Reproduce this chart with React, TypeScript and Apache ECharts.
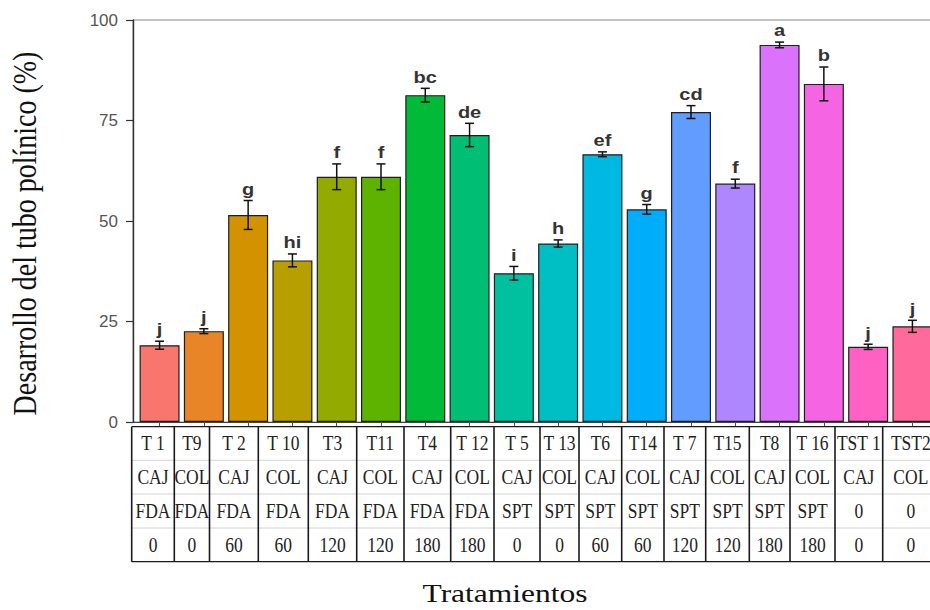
import React, { useEffect, useRef } from "react";
import * as echarts from "echarts";

// Treatments in plotting order
const CATEGORIES = ["T 1", "T9", "T 2", "T 10", "T3", "T11", "T4", "T 12", "T 5", "T 13", "T6", "T14", "T 7", "T15", "T8", "T 16", "TST 1", "TST2"];
// Mean pollen tube development (%)
const MEANS = [19.1, 22.6, 51.5, 40.2, 61.0, 61.0, 81.3, 71.4, 37.0, 44.4, 66.6, 52.9, 77.1, 59.3, 93.8, 84.1, 18.7, 23.8];
// Standard error of each mean
const SE = [1.0, 0.6, 3.6, 1.6, 3.2, 3.2, 1.7, 2.9, 1.7, 0.9, 0.6, 1.2, 1.6, 1.1, 0.7, 4.2, 0.65, 1.5];
// Mean-separation letters
const GROUPS = ["j", "j", "g", "hi", "f", "f", "bc", "de", "i", "h", "ef", "g", "cd", "f", "a", "b", "j", "j"];
// Table rows under the axis
const SPECIES = ["CAJ", "COL", "CAJ", "COL", "CAJ", "COL", "CAJ", "COL", "CAJ", "COL", "CAJ", "COL", "CAJ", "COL", "CAJ", "COL", "CAJ", "COL"];
const STAIN = ["FDA", "FDA", "FDA", "FDA", "FDA", "FDA", "FDA", "FDA", "SPT", "SPT", "SPT", "SPT", "SPT", "SPT", "SPT", "SPT", "0", "0"];
const HOURS = ["0", "0", "60", "60", "120", "120", "180", "180", "0", "0", "60", "60", "120", "120", "180", "180", "0", "0"];
const Y_TICKS = [0, 25, 50, 75, 100];

// Table geometry (pixels)
const TABLE_COL_EDGES = [131.7, 174.3, 209.5, 258.3, 308.3, 356.7, 404, 450.7, 494, 540, 579, 621.7, 664, 705.7, 749.3, 790, 835, 882.7, 939];
const TABLE_ROW_EDGES = [426.7, 460.3, 494, 528, 561.7];

// ggplot2-style hue palette: hcl(h, c = 100, l = 65)
function hcl(h: number, c: number, l: number): string {
  const hr = (h * Math.PI) / 180;
  const U = c * Math.cos(hr);
  const V = c * Math.sin(hr);
  const WY = 100, Wu = 0.1978398, Wv = 0.4683363;
  const Y = WY * (l > 7.999592 ? Math.pow((l + 16) / 116, 3) : l / 903.3);
  const u = U / (13 * l) + Wu;
  const v = V / (13 * l) + Wv;
  const X = (9 * Y * u) / (4 * v);
  const Z = -X / 3 - 5 * Y + (3 * Y) / v;
  const g = (t: number) => {
    const s = t > 0.00304 ? 1.055 * Math.pow(t, 1 / 2.4) - 0.055 : 12.92 * t;
    return Math.round(255 * Math.min(1, Math.max(0, s)));
  };
  const r = g((3.240479 * X - 1.53715 * Y - 0.498535 * Z) / WY);
  const gg = g((-0.969256 * X + 1.875992 * Y + 0.041556 * Z) / WY);
  const b = g((0.055648 * X - 0.204043 * Y + 1.057311 * Z) / WY);
  const hex = (n: number) => n.toString(16).padStart(2, "0");
  return "#" + hex(r) + hex(gg) + hex(b);
}
const PALETTE = CATEGORIES.map((_, i) => hcl(15 + (360 / CATEGORIES.length) * i, 100, 65));

function buildTable(): any[] {
  const els: any[] = [];
  const x0 = TABLE_COL_EDGES[0];
  const x1 = TABLE_COL_EDGES[TABLE_COL_EDGES.length - 1];
  const yTop = TABLE_ROW_EDGES[0];
  const yBot = TABLE_ROW_EDGES[TABLE_ROW_EDGES.length - 1];
  const rows = [CATEGORIES, SPECIES, STAIN, HOURS];
  // inner row separators
  for (let r = 1; r < TABLE_ROW_EDGES.length - 1; r++) {
    els.push({ type: "line", shape: { x1: x0, y1: TABLE_ROW_EDGES[r], x2: x1, y2: TABLE_ROW_EDGES[r] }, style: { stroke: "#d4d4d4", lineWidth: 1 } });
  }
  // outer top and bottom
  [yTop, yBot].forEach((y) => {
    els.push({ type: "line", shape: { x1: x0, y1: y, x2: x1, y2: y }, style: { stroke: "#1a1a1a", lineWidth: 1.3 } });
  });
  // column separators
  TABLE_COL_EDGES.forEach((x) => {
    els.push({ type: "line", shape: { x1: x, y1: yTop, x2: x, y2: yBot }, style: { stroke: "#1a1a1a", lineWidth: 1.6 } });
  });
  // cell texts
  rows.forEach((row, r) => {
    const cy = (TABLE_ROW_EDGES[r] + TABLE_ROW_EDGES[r + 1]) / 2;
    row.forEach((txt, c) => {
      const cx = (TABLE_COL_EDGES[c] + TABLE_COL_EDGES[c + 1]) / 2;
      els.push({
        type: "text",
        x: cx,
        y: cy,
        scaleY: 1.17,
        style: { text: txt, font: '17.5px "Liberation Serif"', fill: "#222", align: "center", verticalAlign: "middle" },
      });
    });
  });
  return els;
}

export default function App() {
  const ref = useRef<HTMLDivElement>(null);

  useEffect(() => {
    if (!ref.current) return;
    const chart = echarts.init(ref.current, null, { renderer: "svg" });

    const option: any = {
      animation: false,
      backgroundColor: "#ffffff",
      grid: {
        left: 133,
        top: 20,
        width: 806,
        height: 402,
        show: true,
        borderColor: "#8a8a8a",
        borderWidth: 1,
        outerBoundsMode: "none",
        containLabel: false,
      },
      xAxis: {
        type: "value",
        min: -0.6,
        max: 17.6,
        axisLine: { show: true, onZero: false, lineStyle: { color: "#444", width: 1.2 } },
        axisTick: { show: true, length: 4, customValues: CATEGORIES.map((_, i) => i), lineStyle: { color: "#555" } },
        axisLabel: { show: false },
        splitLine: { show: false },
      },
      yAxis: {
        type: "value",
        min: Y_TICKS[0],
        max: Y_TICKS[Y_TICKS.length - 1],
        interval: 25,
        axisLine: { show: true, onZero: false, lineStyle: { color: "#333", width: 1.4 } },
        axisTick: { show: true, length: 7, lineStyle: { color: "#333", width: 1.2 } },
        axisLabel: { margin: 15, fontSize: 17, color: "#555", fontFamily: "Liberation Sans" },
        splitLine: { show: false },
      },
      series: [
        {
          type: "bar",
          name: "Desarrollo",
          barWidth: 40,
          data: MEANS.map((m, i) => ({
            value: [i, m],
            itemStyle: { color: PALETTE[i], borderColor: "#1e1e1e", borderWidth: 1.2 },
          })),
        },
        {
          type: "custom",
          name: "Error",
          data: MEANS.map((m, i) => [i, m, SE[i]]),
          encode: { x: 0, y: 1 },
          z: 5,
          renderItem: (params: any, api: any) => {
            const i = api.value(0);
            const m = api.value(1);
            const se = api.value(2);
            const top = api.coord([i, m + se]);
            const bot = api.coord([i, m - se]);
            const cap = 4.5;
            const stroke = { stroke: "#111", lineWidth: 1.5 };
            return {
              type: "group",
              children: [
                { type: "line", shape: { x1: top[0], y1: top[1], x2: bot[0], y2: bot[1] }, style: stroke },
                { type: "line", shape: { x1: top[0] - cap, y1: top[1], x2: top[0] + cap, y2: top[1] }, style: stroke },
                { type: "line", shape: { x1: bot[0] - cap, y1: bot[1], x2: bot[0] + cap, y2: bot[1] }, style: stroke },
                {
                  type: "text",
                  x: top[0],
                  y: top[1] - 11,
                  scaleX: 1.25,
                  style: {
                    text: GROUPS[params.dataIndex],
                    font: 'bold 16px "Liberation Sans"',
                    fill: "#333",
                    align: "center",
                    verticalAlign: "middle",
                  },
                },
              ],
            };
          },
        },
      ],
      graphic: [
        {
          type: "text",
          x: 24.4,
          y: 233.5,
          rotation: Math.PI / 2,
          scaleY: 1.23,
          style: {
            text: "Desarrollo del tubo polínico (%)",
            font: '28px "Liberation Serif"',
            fill: "#111",
            align: "center",
            verticalAlign: "middle",
          },
        },
        {
          type: "text",
          x: 505,
          y: 594,
          scaleX: 1.26,
          style: {
            text: "Tratamientos",
            font: '25px "Liberation Serif"',
            fill: "#111",
            align: "center",
            verticalAlign: "middle",
          },
        },
        ...buildTable(),
      ],
    };

    chart.setOption(option);
    return () => chart.dispose();
  }, []);

  return <div ref={ref} style={{ position: "absolute", left: 0, top: 0, width: 930, height: 610 }} />;
}
